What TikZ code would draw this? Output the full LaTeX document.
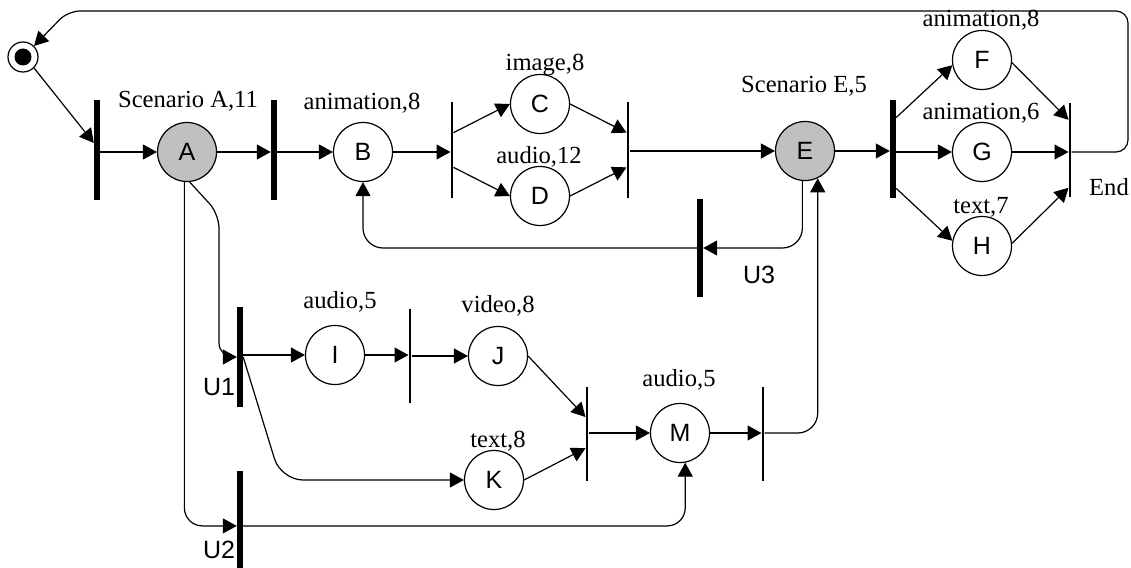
\documentclass[tikz,border=0pt]{standalone}
\usepackage{fontspec}
\setmainfont{Liberation Serif}
\newfontfamily\arialf{Liberation Sans}
\usetikzlibrary{arrows.meta,calc}
\definecolor{scgray}{HTML}{C0C0C0}
\begin{document}
\begin{tikzpicture}[x=1pt,y=-1pt,
  state/.style={circle,draw,line width=1.2pt,minimum size=59pt,inner sep=0pt,font=\arialf\fontsize{25}{25}\selectfont},
  scen/.style={state,fill=scgray},
  thickbar/.style={rectangle,fill=black,draw=none,minimum width=6pt,minimum height=100pt,inner sep=0pt},
  thinbar/.style={rectangle,fill=black,draw=none,minimum width=2.6pt,minimum height=95pt,inner sep=0pt},
  lbl/.style={anchor=base,inner sep=0pt,font=\fontsize{24.6}{26}\selectfont},
  ulbl/.style={anchor=base,inner sep=0pt,font=\arialf\fontsize{25}{25}\selectfont},
  arr/.style={line width=1.2pt,-{Triangle[length=14pt,width=15pt]}},
]
\useasboundingbox (0,0) rectangle (1131,567);

% start symbol
\node[circle,draw,line width=1.2pt,minimum size=30pt,inner sep=0pt] (start) at (23,57) {};
\fill (start.center) circle[radius=8.5pt];

% bars
\node[thickbar] (bar1) at (97,150) {};
\node[thickbar] (bar2) at (274,150) {};
\node[thinbar,minimum height=96pt] (bar3) at (452,150) {};
\node[thinbar,minimum height=96pt] (bar4) at (628,150) {};
\node[thickbar,minimum height=98pt] (bar5) at (893,149) {};
\node[thinbar,minimum height=94pt] (bar6) at (1070,150) {};
\node[thickbar,minimum height=98pt] (U3) at (700,248) {};
\node[thickbar] (U1) at (240,357) {};
\node[thickbar,minimum height=98pt] (U2) at (240,520) {};
\node[thinbar,minimum height=94pt] (barIJ) at (410,356) {};
\node[thinbar,minimum height=94pt] (bar7) at (587,434) {};
\node[thinbar,minimum height=94pt] (bar8) at (763,434) {};

% states
\node[scen] (A) at (187,152) {A};
\node[state] (B) at (363,152) {B};
\node[state] (C) at (540,104) {C};
\node[state] (D) at (540,196) {D};
\node[scen] (E) at (805,151) {E};
\node[state] (F) at (982,60) {F};
\node[state] (G) at (982,152) {G};
\node[state] (H) at (982,246) {H};
\node[state] (I) at (335,355) {I};
\node[state] (J) at (498,356) {J};
\node[state] (K) at (494,480) {K};
\node[state] (M) at (680,433) {M};

% labels
\node[lbl] (lA) at (188,108) {Scenario A,11};
\node[lbl] (lB) at (362,110) {animation,8};
\node[lbl] (lC) at (545,71) {image,8};
\node[lbl] (lD) at (539,163) {audio,12};
\node[lbl] (lE) at (804,93) {Scenario E,5};
\node[lbl] (lF) at (981,27) {animation,8};
\node[lbl] (lG) at (981,120) {animation,6};
\node[lbl] (lH) at (981,213) {text,7};
\node[lbl,anchor=base west] (lEnd) at (1089,195) {End};
\node[lbl] (lI) at (340,308) {audio,5};
\node[lbl] (lJ) at (498,312) {video,8};
\node[lbl] (lK) at (498,447) {text,8};
\node[lbl] (lM) at (679,386) {audio,5};
\node[ulbl] (lU1) at (219,395) {U1};
\node[ulbl] (lU2) at (219,558) {U2};
\node[ulbl] (lU3) at (759,283) {U3};

% helper coordinates
\coordinate (rt1) at (1128,152);
\coordinate (rt2) at (1128,11);
\coordinate (rt3) at (68,11);
\coordinate (a1) at (219,214);
\coordinate (k1) at (281,480);

% main row
\draw[arr] (start.-45) -- ($(bar1.north west)!0.43!(bar1.south west)$);
\draw[arr] (bar1.east |- A.west) -- (A.west);
\draw[arr] (A.east) -- (A.east -| bar2.west);
\draw[arr] (bar2.east |- B.west) -- (B.west);
\draw[arr] (B.east) -- (B.east -| bar3.west);
\draw[arr] ($(bar3.north east)!0.32!(bar3.south east)$) -- (C.west);
\draw[arr] ($(bar3.north east)!0.68!(bar3.south east)$) -- (D.west);
\draw[arr] (C.east) -- ($(bar4.north west)!0.32!(bar4.south west)$);
\draw[arr] (D.east) -- ($(bar4.north west)!0.68!(bar4.south west)$);
\draw[arr] (bar4.east |- E.west) -- (E.west);
\draw[arr] (E.east) -- (E.east -| bar5.west);
\draw[arr] ($(bar5.north east)!0.18!(bar5.south east)$) -- (F.190);
\draw[arr] (bar5.east |- G.west) -- (G.west);
\draw[arr] ($(bar5.north east)!0.90!(bar5.south east)$) -- (H.170);
\draw[arr] (F.-5) -- ($(bar6.north west)!0.18!(bar6.south west)$);
\draw[arr] (G.east) -- (G.east -| bar6.west);
\draw[arr] (H.5) -- ($(bar6.north west)!0.90!(bar6.south west)$);
\draw[arr,rounded corners=12pt] (bar6.east |- G.east) -- (rt1) -- (rt2) -- (rt3) -- (start.45);

% U3 loop
\draw[arr,rounded corners=20pt] (E.265) |- (U3.east);
\draw[arr,rounded corners=20pt] (U3.west) -| (B.south);

% lower branch
\draw[arr,rounded corners=18pt] (A.265) |- ($(U2.north west)!0.56!(U2.south west)$);
\draw[arr,rounded corners=14pt] (A.-85) -- (a1) -- (a1 |- U1.west) -- (U1.west);
\draw[arr] (U1.east |- I.west) -- (I.west);
\draw[arr] (I.east) -- (I.east -| barIJ.west);
\draw[arr] (barIJ.east |- J.west) -- (J.west);
\draw[arr,rounded corners=22pt] (U1.east) -- (k1) -- (K.west);
\draw[arr] (J.east) -- ($(bar7.north west)!0.32!(bar7.south west)$);
\draw[arr] (K.east) -- ($(bar7.north west)!0.65!(bar7.south west)$);
\draw[arr] (bar7.east |- M.west) -- (M.west);
\draw[arr] (M.east) -- (M.east -| bar8.west);
\draw[arr,rounded corners=20pt] (bar8.east |- M.east) -| (E.-65);
\draw[arr,rounded corners=18pt] ($(U2.north east)!0.56!(U2.south east)$) -| (M.-80);
\end{tikzpicture}
\end{document}
